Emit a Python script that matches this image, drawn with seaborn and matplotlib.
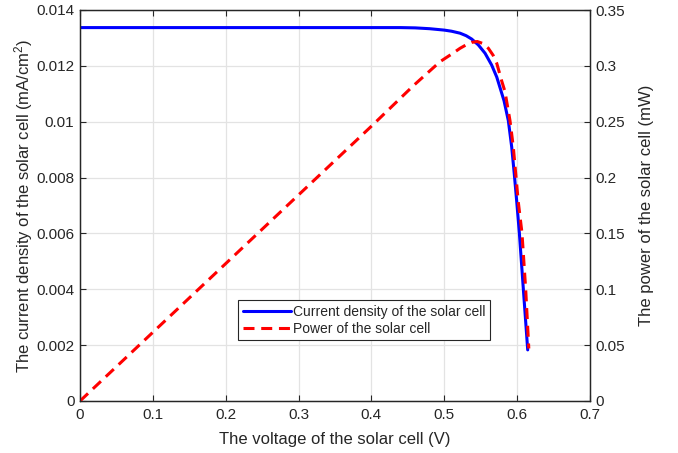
import matplotlib
matplotlib.use("Agg")
import matplotlib.pyplot as plt
import seaborn as sns
import pandas as pd

# ---- data ----
voltage_j = [0.0, 0.1, 0.2, 0.3, 0.4, 0.44, 0.46, 0.48, 0.50, 0.51, 0.5216, 0.53, 0.5376,
             0.5467, 0.556, 0.565, 0.572, 0.5765, 0.582, 0.5879, 0.5925, 0.596, 0.5994,
             0.603, 0.6085, 0.6145]
current_density = [0.01337, 0.01337, 0.01337, 0.01337, 0.01337, 0.01337, 0.01336, 0.01333,
                   0.01328, 0.01324, 0.01317, 0.01308, 0.01296, 0.01275, 0.01245, 0.01203,
                   0.01160, 0.01122, 0.01075, 0.01004, 0.0091, 0.00815, 0.00715, 0.00603,
                   0.00401, 0.00183]

voltage_p = [0.0, 0.1, 0.2, 0.3, 0.4, 0.4575, 0.4941, 0.51, 0.5216, 0.53, 0.5376, 0.5453,
             0.553, 0.5605, 0.567, 0.572, 0.5788, 0.5833, 0.5902, 0.5947, 0.5984, 0.6016,
             0.6066, 0.6117, 0.6160]
power = [0.0, 0.0615, 0.123, 0.1845, 0.246, 0.2822, 0.3037, 0.3105, 0.3157, 0.3188, 0.3210,
         0.3218, 0.3200, 0.3157, 0.3095, 0.3023, 0.2865, 0.2770, 0.2509, 0.2276, 0.2008,
         0.178, 0.1506, 0.1003, 0.047]

x_ticks = [0, 0.1, 0.2, 0.3, 0.4, 0.5, 0.6, 0.7]
x_tick_labels = ["0", "0.1", "0.2", "0.3", "0.4", "0.5", "0.6", "0.7"]
left_ticks = [0, 0.002, 0.004, 0.006, 0.008, 0.01, 0.012, 0.014]
left_tick_labels = ["0", "0.002", "0.004", "0.006", "0.008", "0.01", "0.012", "0.014"]
right_ticks = [0, 0.05, 0.1, 0.15, 0.2, 0.25, 0.3, 0.35]
right_tick_labels = ["0", "0.05", "0.1", "0.15", "0.2", "0.25", "0.3", "0.35"]

label_x = "The voltage of the solar cell (V)"
label_left = r"The current density of the solar cell (mA/cm$^2$)"
label_right = "The power of the solar cell (mW)"
legend_j = "Current density of the solar cell"
legend_p = "Power of the solar cell"

df_j = pd.DataFrame({"V": voltage_j, "J": current_density})
df_p = pd.DataFrame({"V": voltage_p, "P": power})

sns.set_style("white")
plt.rcParams["font.family"] = ["Liberation Sans", "DejaVu Sans"]
plt.rcParams["mathtext.fontset"] = "custom"
plt.rcParams["mathtext.rm"] = "Liberation Sans"
plt.rcParams["mathtext.it"] = "Liberation Sans:italic"

axis_color = "#262626"

fig = plt.figure(figsize=(6.78, 4.53), dpi=100)
ax = fig.add_axes([80 / 678, 1 - 401 / 453, 510 / 678, 391 / 453])
ax2 = ax.twinx()

sns.lineplot(data=df_j, x="V", y="J", ax=ax, color="#0000ff", linewidth=2.2,
             sort=False, label=legend_j, legend=False)
sns.lineplot(data=df_p, x="V", y="P", ax=ax2, color="#ff0000", linewidth=2.2,
             linestyle="--", dashes=False, sort=False, label=legend_p, legend=False)
for ln in ax2.get_lines():
    ln.set_dashes((3.6, 2.2))
    ln.set_solid_joinstyle("round")
for ln in ax.get_lines():
    ln.set_solid_joinstyle("round")

ax.set_xlim(0, 0.7)
ax.set_ylim(0, 0.014)
ax2.set_ylim(0, 0.35)
ax.set_xticks(x_ticks)
ax.set_xticklabels(x_tick_labels)
ax.set_yticks(left_ticks)
ax.set_yticklabels(left_tick_labels)
ax2.set_yticks(right_ticks)
ax2.set_yticklabels(right_tick_labels)

ax.grid(True, color="#e3e3e3", linewidth=0.9)
ax.set_axisbelow(True)

fs = 11
ax.tick_params(axis="x", direction="in", top=True, bottom=True, length=4,
               labelsize=fs, colors=axis_color, pad=5)
ax.tick_params(axis="y", direction="in", left=True, right=False, length=4,
               labelsize=fs, colors=axis_color, pad=4)
ax2.tick_params(axis="y", direction="in", right=True, left=False, length=4,
                labelsize=fs, colors=axis_color, pad=4)
for a in (ax, ax2):
    for s in a.spines.values():
        s.set_color(axis_color)
        s.set_linewidth(0.9)

ax.set_xlabel(label_x, fontsize=12, color=axis_color, labelpad=7)
ax.set_ylabel(label_left, fontsize=12, color=axis_color, labelpad=1)
ax2.set_ylabel(label_right, fontsize=12, color=axis_color, labelpad=10)

h1, l1 = ax.get_legend_handles_labels()
h2, l2 = ax2.get_legend_handles_labels()
leg = ax2.legend(h1 + h2, l1 + l2, loc="lower left", bbox_to_anchor=(0.31, 0.155),
                 fontsize=10, frameon=True, fancybox=False, framealpha=1,
                 edgecolor=axis_color, handlelength=3.45, handletextpad=0.15,
                 borderpad=0.35, labelspacing=0.2, borderaxespad=0)
leg.get_frame().set_linewidth(0.8)

fig.savefig("out.png", dpi=100)
